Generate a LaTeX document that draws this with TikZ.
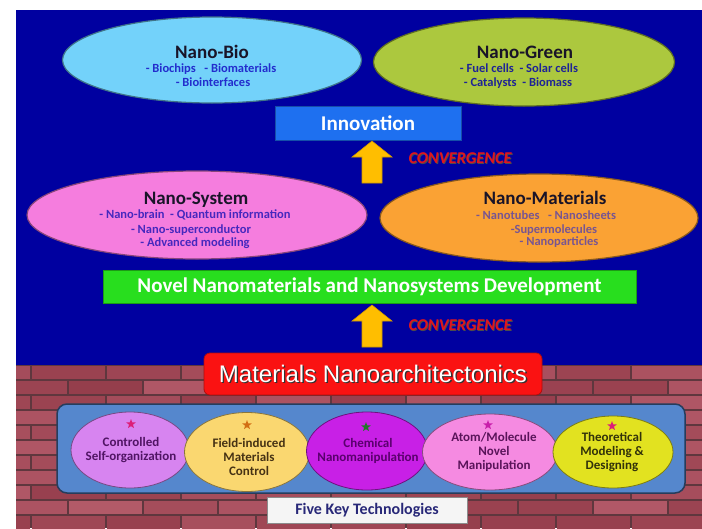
\documentclass[tikz,border=0pt]{standalone}
\usepackage{fontspec}
\setmainfont{Carlito}
\newfontfamily\arialfont{Liberation Sans}
\usetikzlibrary{shapes.geometric,calc}
\definecolor{navybg}{RGB}{0,0,160}
\definecolor{mortar}{RGB}{95,55,62}
\definecolor{brickA}{RGB}{190,100,115}
\definecolor{brickB}{RGB}{145,58,72}
\definecolor{biofill}{RGB}{115,210,250}
\definecolor{greenfill}{RGB}{172,200,62}
\definecolor{sysfill}{RGB}{245,125,222}
\definecolor{matfill}{RGB}{250,162,52}
\definecolor{titlecol}{RGB}{25,20,40}
\definecolor{biotext}{RGB}{35,45,205}
\definecolor{greentext}{RGB}{30,35,150}
\definecolor{systext}{RGB}{70,40,190}
\definecolor{mattext}{RGB}{120,85,145}
\definecolor{innoblue}{RGB}{30,112,240}
\definecolor{novelgreen}{RGB}{40,222,30}
\definecolor{arrowgold}{RGB}{255,190,0}
\definecolor{convred}{RGB}{225,20,30}
\definecolor{archred}{RGB}{250,18,18}
\definecolor{boxblue}{RGB}{85,135,205}
\definecolor{fivetext}{RGB}{40,40,120}
\definecolor{ctlfill}{RGB}{215,132,240}
\definecolor{fldfill}{RGB}{250,215,112}
\definecolor{chmfill}{RGB}{200,32,230}
\definecolor{atmfill}{RGB}{245,138,225}
\definecolor{thrfill}{RGB}{226,226,32}
\definecolor{ctltext}{RGB}{80,20,100}
\definecolor{fldtext}{RGB}{70,50,20}
\definecolor{chmtext}{RGB}{90,0,110}
\definecolor{atmtext}{RGB}{90,20,90}
\definecolor{thrtext}{RGB}{50,50,10}
\definecolor{starA}{RGB}{220,30,120}
\definecolor{starB}{RGB}{210,110,20}
\definecolor{starC}{RGB}{30,120,40}
\definecolor{starD}{RGB}{200,30,170}
\tikzset{
  bigell/.style={ellipse, inner sep=0pt, line width=1.2pt},
  smallell/.style={ellipse, inner sep=0pt, line width=0.8pt},
  ttl/.style={anchor=base, font=\fontsize{19}{22}\selectfont\bfseries, text=titlecol},
  bul/.style={anchor=base, font=\fontsize{12.5}{14}\selectfont\bfseries},
  sml/.style={align=center, font=\fontsize{13}{14}\selectfont\bfseries},
  starmark/.style={star, star points=5, star point ratio=2.4, inner sep=0pt, minimum size=10pt},
  bararrow/.style={fill=arrowgold, draw=arrowgold!80!black, line width=0.6pt},
  convtxt/.style={anchor=west, font=\fontsize{16.5}{18}\selectfont\bfseries\itshape},
}
\begin{document}
\begin{tikzpicture}[x=1pt,y=-1pt]
\useasboundingbox (0,0) rectangle (702,528);
\fill[white] (0,0) rectangle (702,528);
\fill[navybg] (16,10) rectangle (702,365);
% brick wall
\begin{scope}
\clip (16,365) rectangle (702,528);
\fill[mortar] (16,365) rectangle (702,528);
\pgfmathsetseed{11}
\foreach \r in {0,...,10} {
  \pgfmathsetmacro{\yy}{365+\r*15}
  \pgfmathsetmacro{\off}{mod(\r,2)*37-60}
  \foreach \c in {0,...,10} {
    \pgfmathsetmacro{\xx}{16+\off+\c*75}
    \pgfmathrandominteger{\shd}{10}{75}
    \fill[brickA!\shd!brickB] (\xx+1.2,\yy+1.2) rectangle (\xx+73.8,\yy+13.8);
  }
}
\end{scope}

% top ellipses
\node[bigell, fill=biofill, draw=biofill!55!black, minimum width=299pt, minimum height=86pt] (bio) at (212,60) {};
\node[bigell, fill=greenfill, draw=greenfill!55!black, minimum width=301pt, minimum height=88pt] (green) at (524,62) {};
\node[ttl] (bioT) at (212,58) {Nano-Bio};
\node[bul, text=biotext] (bioA) at (211,72) {- Biochips \ \ - Biomaterials};
\node[bul, text=biotext] (bioB) at (213,86) {- Biointerfaces};
\node[ttl] (greenT) at (525,58) {Nano-Green};
\node[bul, text=greentext] (greenA) at (519,72) {- Fuel cells \ - Solar cells};
\node[bul, text=greentext] (greenB) at (518,86) {- Catalysts \ - Biomass};

% innovation
\node[rectangle, fill=innoblue, draw=innoblue!70!black, line width=0.6pt, minimum width=186pt, minimum height=34pt, inner sep=0pt,
  font=\fontsize{21}{24}\selectfont\bfseries, text=white] (inno) at (368,123) {Innovation};

% middle ellipses
\node[bigell, fill=sysfill, draw=sysfill!55!black, minimum width=340pt, minimum height=88pt] (sys) at (197,215) {};
\node[bigell, fill=matfill, draw=matfill!55!black, minimum width=318pt, minimum height=88pt] (mat) at (539,218) {};
\node[ttl] (sysT) at (196,204) {Nano-System};
\node[bul, text=systext] (sysA) at (195,218) {- Nano-brain \ - Quantum information};
\node[bul, text=systext] (sysB) at (191,233) {- Nano-superconductor};
\node[bul, text=systext] (sysC) at (195,246) {- Advanced modeling};
\node[ttl] (matT) at (545,204) {Nano-Materials};
\node[bul, text=mattext] (matA) at (546,219) {- Nanotubes \ \ - Nanosheets};
\node[bul, text=mattext] (matB) at (554,233) {-Supermolecules};
\node[bul, text=mattext] (matC) at (559,245) {- Nanoparticles};

% novel box
\node[rectangle, fill=novelgreen, draw=novelgreen!70!black, line width=0.6pt, minimum width=533pt, minimum height=33pt, inner sep=0pt,
  font=\fontsize{21}{24}\selectfont\bfseries, text=white] (novel) at (369.5,286.5) {Novel Nanomaterials and Nanosystems Development};

% red box
\node[rectangle, rounded corners=6pt, fill=archred, draw=archred!70!black, line width=0.8pt, minimum width=338pt, minimum height=42pt, inner sep=0pt] (arch) at (373,374) {};
\node[font=\arialfont\fontsize{24}{28}\selectfont, text=black!80] (archS) at (374.3,375.3) {Materials Nanoarchitectonics};
\node[font=\arialfont\fontsize{24}{28}\selectfont, text=white] (archT) at (373,374) {Materials Nanoarchitectonics};

% convergence arrows
\coordinate (a1base) at (372,183);
\coordinate (a2base) at (372,347);
\path[bararrow] (a1base) -- ++(10,0) -- ++(0,-26) -- ++(10,0) -- ++(-20,-16) -- ++(-20,16) -- ++(10,0) -- ++(0,26) -- cycle;
\path[bararrow] (a2base) -- ++(10,0) -- ++(0,-26) -- ++(10,0) -- ++(-20,-16) -- ++(-20,16) -- ++(10,0) -- ++(0,26) -- cycle;
\node[convtxt, text=black!70] (conv1S) at (405.8,158.8) {CONVERGENCE};
\node[convtxt, text=convred] (conv1) at (405,158) {CONVERGENCE};
\node[convtxt, text=black!70] (conv2S) at (405.8,325.8) {CONVERGENCE};
\node[convtxt, text=convred] (conv2) at (405,325) {CONVERGENCE};

% five key technologies container
\node[rectangle, rounded corners=10pt, fill=boxblue, draw=boxblue!45!black, line width=1.5pt, minimum width=628pt, minimum height=89pt, inner sep=0pt] (panel) at (371,448.5) {};
\node[smallell, fill=ctlfill, draw=ctlfill!55!black, minimum width=118pt, minimum height=76pt] (ctl) at (130,450) {};
\node[smallell, fill=fldfill, draw=fldfill!55!black, minimum width=125pt, minimum height=79pt] (fld) at (247,452) {};
\node[smallell, fill=chmfill, draw=chmfill!55!black, minimum width=121pt, minimum height=78pt] (chm) at (367,451) {};
\node[smallell, fill=atmfill, draw=atmfill!55!black, minimum width=135pt, minimum height=76pt] (atm) at (490,452) {};
\node[smallell, fill=thrfill, draw=thrfill!55!black, minimum width=120pt, minimum height=72pt] (thr) at (613,452) {};
\node[starmark, fill=starA] (ctlS) at (131,424) {};
\node[starmark, fill=starB] (fldS) at (247,425) {};
\node[starmark, fill=starC] (chmS) at (366,427) {};
\node[starmark, fill=starD] (atmS) at (488,425) {};
\node[starmark, fill=starA] (thrS) at (612,426) {};
\node[sml, text=ctltext] (ctlT) at (131,450) {Controlled\\Self-organization};
\node[sml, text=fldtext] (fldT) at (249,457) {Field-induced\\Materials\\Control};
\node[sml, text=chmtext] (chmT) at (368,451) {Chemical\\Nanomanipulation};
\node[sml, text=atmtext] (atmT) at (494,452) {Atom/Molecule\\Novel\\Manipulation};
\node[sml, text=thrtext] (thrT) at (612,452) {Theoretical\\Modeling \&\\Designing};

% five key box
\node[rectangle, fill=black!4, draw=black!45, line width=0.6pt, minimum width=200pt, minimum height=26pt, inner sep=0pt,
  font=\fontsize{16}{18}\selectfont\bfseries, text=fivetext] (five) at (367,510) {Five Key Technologies};
\end{tikzpicture}
\end{document}
